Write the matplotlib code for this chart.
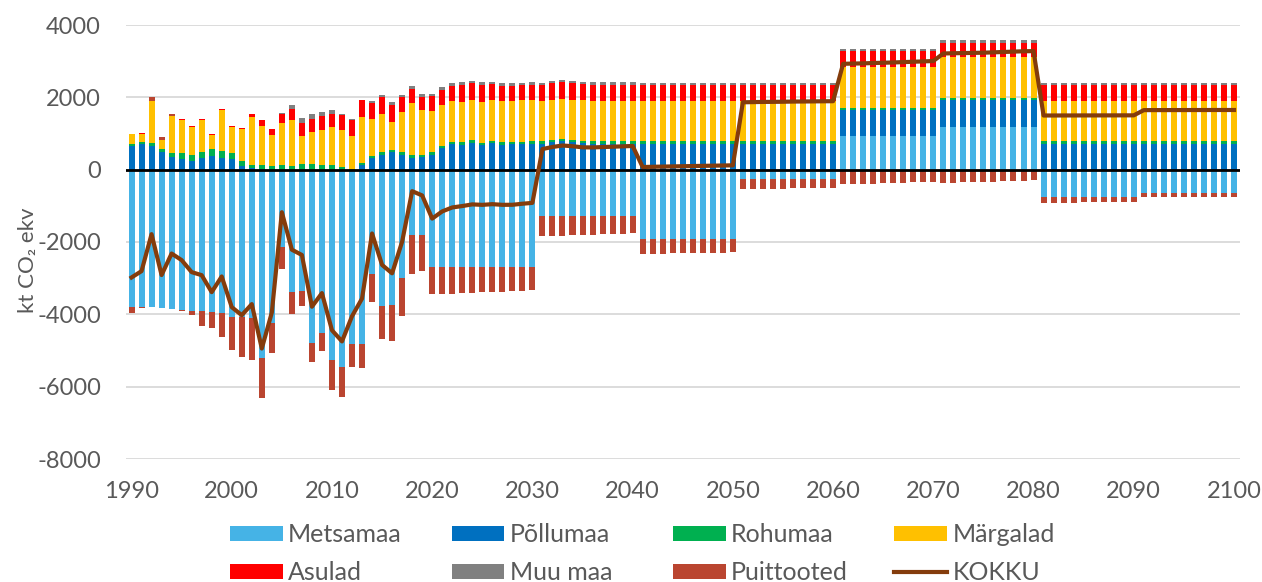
import matplotlib
matplotlib.use("Agg")
import matplotlib.pyplot as plt
import numpy as np
from matplotlib.lines import Line2D
from matplotlib.patches import Patch

plt.rcParams["font.family"] = ["Lato", "DejaVu Sans"]
plt.rcParams["axes.unicode_minus"] = False

years = list(range(1990, 2101))

# kt CO2 ekv per year, 1990..2100 (rows of 10 years)
metsamaa = [
    -3790, -3790, -3790, -3817, -3845, -3882, -3900, -3900, -3946, -3955,
    -4066, -4066, -4112, -5220, -4250, -2150, -3381, -3344, -4792, -4507,
    -5267, -5465, -4825, -4825, -2893, -3767, -3731, -2995, -1799, -1799,
    -2680, -2700, -2700, -2700, -2700, -2700, -2700, -2700, -2700, -2700,
    -2700, -1287, -1287, -1287, -1287, -1287, -1287, -1287, -1287, -1287,
    -1287, -1917, -1917, -1917, -1917, -1917, -1917, -1917, -1917, -1917,
    -1917, -250, -250, -250, -250, -250, -250, -250, -250, -250,
    -250, 926, 926, 926, 926, 926, 926, 926, 926, 926,
    926, 1185, 1185, 1185, 1185, 1185, 1185, 1185, 1185, 1185,
    1185, -759, -759, -759, -759, -759, -759, -759, -759, -759,
    -759, -639, -639, -639, -639, -639, -639, -639, -639, -639,
    -639,
]
pollumaa = [
    653, 718, 653, 488, 340, 285, 240, 313, 368, 313,
    285, 92, 37, 20, 0, 0, 0, 0, 0, 0,
    0, 0, 0, 129, 322, 414, 497, 405, 331, 359,
    414, 602, 704, 685, 731, 676, 731, 685, 713, 713,
    722, 722, 760, 780, 760, 730, 722, 722, 722, 722,
    722, 722, 722, 722, 722, 722, 722, 722, 722, 722,
    722, 722, 722, 722, 722, 722, 722, 722, 722, 722,
    722, 722, 722, 722, 722, 722, 722, 722, 722, 722,
    722, 741, 741, 741, 741, 741, 741, 741, 741, 741,
    741, 722, 722, 722, 722, 722, 722, 722, 722, 722,
    722, 722, 722, 722, 722, 722, 722, 722, 722, 722,
    722,
]
rohumaa = [
    55, 37, 74, 83, 120, 166, 156, 175, 193, 193,
    166, 156, 83, 100, 92, 129, 101, 156, 156, 138,
    138, 74, 28, 64, 64, 74, 46, 83, 74, 55,
    65, 56, 56, 74, 83, 65, 65, 83, 65, 65,
    65, 65, 60, 60, 60, 65, 65, 65, 65, 65,
    65, 65, 65, 65, 65, 65, 65, 65, 65, 65,
    65, 65, 65, 65, 65, 65, 65, 65, 65, 65,
    65, 65, 65, 65, 65, 65, 65, 65, 65, 65,
    65, 56, 56, 56, 56, 56, 56, 56, 56, 56,
    56, 65, 65, 65, 65, 65, 65, 65, 65, 65,
    65, 65, 65, 65, 65, 65, 65, 65, 65, 65,
    65,
]
margalad = [
    267, 240, 1170, 258, 1020, 930, 782, 892, 405, 1150,
    727, 865, 1350, 1076, 855, 1150, 1260, 782, 883, 957,
    1030, 1030, 902, 1250, 1020, 1040, 773, 1104, 1435, 1242,
    1139, 1139, 1139, 1120, 1120, 1130, 1139, 1130, 1130, 1139,
    1139, 1120, 1120, 1120, 1120, 1120, 1120, 1120, 1120, 1120,
    1120, 1120, 1120, 1120, 1120, 1120, 1120, 1120, 1120, 1120,
    1120, 1120, 1120, 1120, 1120, 1120, 1120, 1120, 1120, 1120,
    1120, 1139, 1139, 1139, 1139, 1139, 1139, 1139, 1139, 1139,
    1139, 1120, 1120, 1120, 1120, 1120, 1120, 1120, 1120, 1120,
    1120, 1120, 1120, 1120, 1120, 1120, 1120, 1120, 1120, 1120,
    1120, 1120, 1120, 1120, 1120, 1120, 1120, 1120, 1120, 1120,
    1120,
]
asulad = [
    0, 18, 0, 0, 0, 18, 18, 18, 18, 10,
    18, 37, 74, 166, 184, 248, 322, 359, 368, 386,
    377, 414, 432, 470, 432, 470, 478, 423, 377, 359,
    417, 407, 417, 463, 454, 472, 426, 426, 407, 417,
    417, 435, 450, 460, 450, 440, 435, 435, 435, 435,
    435, 430, 430, 430, 430, 430, 430, 430, 430, 430,
    430, 426, 426, 426, 426, 426, 426, 426, 426, 426,
    426, 417, 417, 417, 417, 417, 417, 417, 417, 417,
    417, 398, 398, 398, 398, 398, 398, 398, 398, 398,
    398, 426, 426, 426, 426, 426, 426, 426, 426, 426,
    426, 426, 426, 426, 426, 426, 426, 426, 426, 426,
    426,
]
muu_maa = [
    0, 0, 0, 0, 0, 0, 0, 0, 0, 0,
    0, 0, 0, 0, 0, 46, 101, 120, 120, 110,
    110, 18, 37, 20, 55, 55, 74, 46, 83, 83,
    56, 83, 74, 74, 65, 74, 65, 74, 74, 74,
    74, 65, 70, 70, 70, 70, 70, 70, 70, 70,
    70, 70, 70, 70, 70, 70, 70, 70, 70, 70,
    70, 70, 70, 70, 70, 70, 70, 70, 70, 70,
    70, 65, 65, 65, 65, 65, 65, 65, 65, 65,
    65, 74, 74, 74, 74, 74, 74, 74, 74, 74,
    74, 74, 74, 74, 74, 74, 74, 74, 74, 74,
    74, 74, 74, 74, 74, 74, 74, 74, 74, 74,
    74,
]
puittooted = [
    -166, -28, 110, 74, 46, -18, -129, -415, -424, -664,
    -931, -1107, -1150, -1088, -830, -600, -616, -432, -524, -497,
    -828, -819, -626, -672, -764, -920, -1003, -1058, -1095, -1012,
    -764, -741, -735, -722, -713, -690, -680, -670, -660, -650,
    -635, -550, -545, -535, -525, -520, -510, -500, -490, -480,
    -470, -417, -410, -405, -400, -395, -390, -385, -380, -375,
    -370, -290, -285, -280, -278, -275, -270, -268, -265, -262,
    -260, -407, -400, -395, -385, -378, -370, -360, -350, -340,
    -330, -361, -355, -350, -345, -340, -330, -320, -310, -300,
    -296, -150, -150, -149, -149, -148, -148, -147, -147, -146,
    -146, -122, -121, -121, -120, -120, -119, -119, -118, -118,
    -118,
]

series = [
    ("Metsamaa", metsamaa, "#45B3E6"),
    ("Põllumaa", pollumaa, "#0070C0"),
    ("Rohumaa", rohumaa, "#00B050"),
    ("Märgalad", margalad, "#FFC000"),
    ("Asulad", asulad, "#FF0000"),
    ("Muu maa", muu_maa, "#808080"),
    ("Puittooted", puittooted, "#BA4530"),
]
kokku = np.sum([np.array(s[1]) for s in series], axis=0)

fig = plt.figure(figsize=(12.62, 5.82), dpi=100)
ax = fig.add_axes([126 / 1262, 1 - 459 / 582, (1240 - 126) / 1262, (459 - 25) / 582])

# Excel-style stacking: positives upward, negatives downward
pos_bottom = np.zeros(len(years))
neg_bottom = np.zeros(len(years))
for name, vals, color in series:
    v = np.array(vals, dtype=float)
    bottom = np.where(v >= 0, pos_bottom, neg_bottom)
    ax.bar(years, v, bottom=bottom, width=0.6, color=color, linewidth=0, zorder=2)
    pos_bottom += np.where(v >= 0, v, 0)
    neg_bottom += np.where(v < 0, v, 0)

ax.axhline(0, color="black", linewidth=2, zorder=3)
ax.plot(years, kokku, color="#843C0C", linewidth=3, zorder=4)

ax.set_xlim(1989.45, 2100.6)
ax.set_ylim(-8000, 4000)
ax.set_yticks(range(-8000, 4001, 2000))
ax.set_xticks(range(1990, 2101, 10))
ax.yaxis.grid(True, color="#D9D9D9", linewidth=1.3, zorder=0)
ax.set_axisbelow(True)
for sp in ax.spines.values():
    sp.set_visible(False)
ax.tick_params(axis="y", length=0, labelsize=17, labelcolor="#595959", pad=18)
ax.tick_params(axis="x", length=0, labelsize=17, labelcolor="#595959", pad=16)
ax.set_ylabel("kt CO₂ ekv", fontsize=16, color="#595959")
ax.yaxis.set_label_coords(-0.079, 0.458)

# legend: four fixed-pitch columns like the Excel legend
h = {name: Patch(facecolor=color, edgecolor="none") for name, _, color in series}
h["KOKKU"] = Line2D([], [], color="#843C0C", linewidth=3)
columns = [["Metsamaa", "Asulad"], ["Põllumaa", "Muu maa"],
           ["Rohumaa", "Puittooted"], ["Märgalad", "KOKKU"]]
for i, col in enumerate(columns):
    fig.legend(
        [h[k] for k in col],
        col,
        loc="upper left",
        bbox_to_anchor=((230 + i * 221.5) / 1262, 1 - 523 / 582),
        ncol=1,
        frameon=False,
        fontsize=18,
        labelcolor="#595959",
        handlelength=2.1,
        handleheight=0.56,
        handletextpad=0.22,
        labelspacing=0.62,
        borderpad=0,
        borderaxespad=0,
    )

fig.savefig("out.png", dpi=100)
